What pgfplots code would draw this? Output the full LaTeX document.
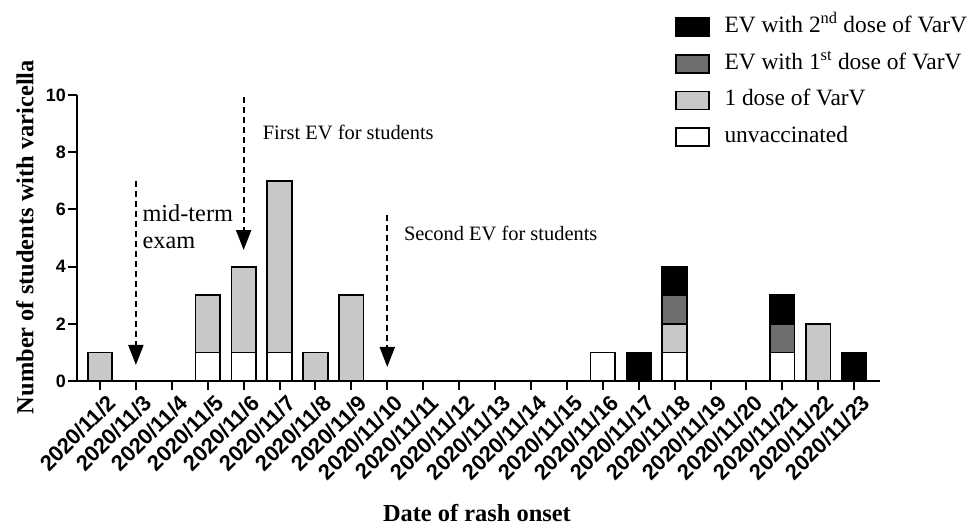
\documentclass[border=0pt]{standalone}
\usepackage{pgfplots}
\usepackage{pgfplotstable}
\pgfplotsset{compat=1.18}
\usepackage{fontspec}
\setmainfont{Liberation Serif}
\newfontfamily\arialfont{Liberation Sans}
\usetikzlibrary{arrows.meta}
\definecolor{onedose}{HTML}{C8C8C8}
\definecolor{evone}{HTML}{6E6E6E}

\pgfplotstableread{
x unv one evone evtwo
0 0 1 0 0
1 0 0 0 0
2 0 0 0 0
3 1 2 0 0
4 1 3 0 0
5 1 6 0 0
6 0 1 0 0
7 0 3 0 0
8 0 0 0 0
9 0 0 0 0
10 0 0 0 0
11 0 0 0 0
12 0 0 0 0
13 0 0 0 0
14 1 0 0 0
15 0 0 0 1
16 1 1 1 1
17 0 0 0 0
18 0 0 0 0
19 1 0 1 1
20 0 2 0 0
21 0 0 0 1
}\cases

\pgfplotsset{legsq/.style={/pgfplots/legend image code/.code={\draw[##1,line width=1.8bp] (0bp,-9bp) rectangle (33bp,9bp);}}}

\begin{document}
\begin{tikzpicture}
\begin{axis}[
  scale only axis, width=803bp, height=286bp,
  xmin=-0.64, xmax=21.72, ymin=0, ymax=10,
  axis x line=bottom, axis y line=left,
  axis line style={-, line width=2bp},
  tick align=outside, major tick length=9bp,
  tick style={line width=2bp, black},
  xtick={0,...,21},
  xticklabels={2020/11/2,2020/11/3,2020/11/4,2020/11/5,2020/11/6,2020/11/7,2020/11/8,2020/11/9,2020/11/10,2020/11/11,2020/11/12,2020/11/13,2020/11/14,2020/11/15,2020/11/16,2020/11/17,2020/11/18,2020/11/19,2020/11/20,2020/11/21,2020/11/22,2020/11/23},
  ytick={0,2,4,6,8,10},
  x tick label style={xshift=6bp, yshift=-3bp, rotate=45, anchor=north east, font=\arialfont\bfseries\fontsize{22}{22}\selectfont, inner sep=0bp},
  y tick label style={font=\arialfont\bfseries\fontsize{18}{18}\selectfont, inner sep=2bp},
  /pgf/number format/assume math mode=true,
  ylabel={Number of students with varicella},
  xlabel={Date of rash onset},
  label style={font=\bfseries\fontsize{24.5}{24.5}\selectfont},
  ylabel style={at={(axis description cs:-0.0648,0.503)}, anchor=center},
  xlabel style={at={(axis description cs:0.498,-0.4615)}, anchor=center},
  ybar stacked, bar width=0.68,
  clip=false,
  reverse legend,
  legend style={at={(0.7447,1.275)}, anchor=north west, draw=none, fill=none,
    font=\fontsize{23.5}{23.5}\selectfont, row sep=15.7bp, inner sep=0pt,
    nodes={inner sep=0pt, text height=16bp, text depth=5bp},
    cells={anchor=west}},
]
\addplot[fill=white, draw=black, line width=1.8bp, legsq] table[x=x,y=unv]{\cases};
\addlegendentry{\hspace{14.5bp}unvaccinated}
\addplot[fill=onedose, draw=black, line width=1.8bp, legsq] table[x=x,y=one]{\cases};
\addlegendentry{\hspace{14.5bp}1 dose of VarV}
\addplot[fill=evone, draw=black, line width=1.8bp, legsq] table[x=x,y=evone]{\cases};
\addlegendentry{\hspace{14.5bp}EV with 1\textsuperscript{st} dose of VarV}
\addplot[fill=black, draw=black, line width=1.8bp, legsq] table[x=x,y=evtwo]{\cases};
\addlegendentry{\hspace{14.5bp}EV with 2\textsuperscript{nd} dose of VarV}

\draw[line width=2bp, dash pattern=on 6bp off 4bp, -{Triangle[width=15bp,length=20bp]}] (axis cs:1,7) -- (axis cs:1,0.56);
\draw[line width=2bp, dash pattern=on 6bp off 4bp, -{Triangle[width=15bp,length=20bp]}] (axis cs:4,9.93) -- (axis cs:4,4.58);
\draw[line width=2bp, dash pattern=on 6bp off 4bp, -{Triangle[width=15bp,length=20bp]}] (axis cs:8,5.8) -- (axis cs:8,0.49);

\node[anchor=west, align=left, font=\fontsize{24.4}{27}\selectfont, inner sep=0pt] at (axis cs:1.18,5.4) {mid-term\\exam};
\node[anchor=west, font=\fontsize{20.5}{20.5}\selectfont, inner sep=0pt] at (axis cs:4.53,8.7) {First EV for students};
\node[anchor=west, font=\fontsize{20.5}{20.5}\selectfont, inner sep=0pt] at (axis cs:8.46,5.17) {Second EV for students};
\end{axis}
\pgfresetboundingbox
\path ([shift={(-77bp,-144bp)}]current axis.south west) rectangle ++(972bp,525bp);
\end{tikzpicture}
\end{document}
